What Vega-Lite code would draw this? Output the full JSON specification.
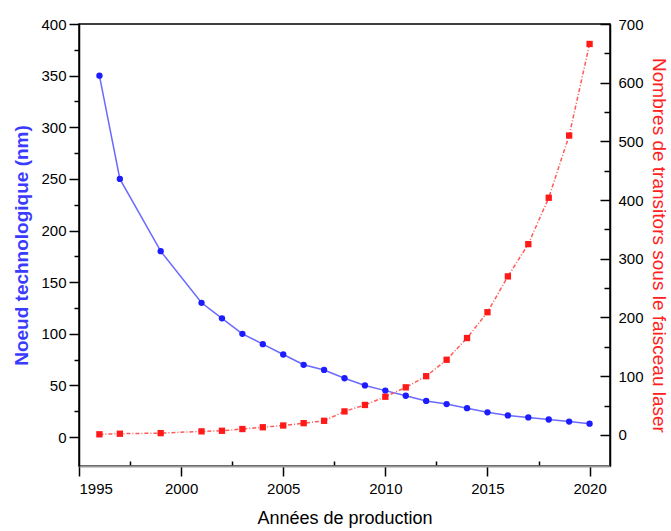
{
  "$schema": "https://vega.github.io/schema/vega-lite/v6.json",
  "autosize": {"type": "none"},
  "width": 531,
  "height": 442,
  "padding": {"left": 79, "top": 24, "right": 61, "bottom": 65},
  "background": "white",
  "config": {
    "font": "Liberation Sans",
    "view": {"stroke": "black", "strokeWidth": 1.5},
    "axis": {
      "grid": false,
      "labelFont": "Liberation Sans",
      "labelFontSize": 15,
      "labelColor": "black",
      "tickColor": "black",
      "tickWidth": 1.5,
      "domainColor": "black",
      "domainWidth": 1.5,
      "titleFont": "Liberation Sans"
    }
  },
  "data": {
    "values": [
      {"annee": 1996, "noeud": 350, "transistors": 1},
      {"annee": 1997, "noeud": 250, "transistors": 2},
      {"annee": 1999, "noeud": 180, "transistors": 3},
      {"annee": 2001, "noeud": 130, "transistors": 6},
      {"annee": 2002, "noeud": 115, "transistors": 7},
      {"annee": 2003, "noeud": 100, "transistors": 10},
      {"annee": 2004, "noeud": 90, "transistors": 13},
      {"annee": 2005, "noeud": 80, "transistors": 16},
      {"annee": 2006, "noeud": 70, "transistors": 20},
      {"annee": 2007, "noeud": 65, "transistors": 24},
      {"annee": 2008, "noeud": 57, "transistors": 40},
      {"annee": 2009, "noeud": 50, "transistors": 51},
      {"annee": 2010, "noeud": 45, "transistors": 65},
      {"annee": 2011, "noeud": 40, "transistors": 81},
      {"annee": 2012, "noeud": 35, "transistors": 100},
      {"annee": 2013, "noeud": 32, "transistors": 128},
      {"annee": 2014, "noeud": 28, "transistors": 165},
      {"annee": 2015, "noeud": 24, "transistors": 209},
      {"annee": 2016, "noeud": 21, "transistors": 270},
      {"annee": 2017, "noeud": 19, "transistors": 325},
      {"annee": 2018, "noeud": 17, "transistors": 404},
      {"annee": 2019, "noeud": 15, "transistors": 510},
      {"annee": 2020, "noeud": 13, "transistors": 666}
    ]
  },
  "encoding": {
    "x": {
      "field": "annee",
      "type": "quantitative",
      "scale": {"domain": [1995, 2021], "nice": false, "zero": false},
      "axis": {
        "title": "Années de production",
        "titleFontSize": 18,
        "titleFontWeight": "normal",
        "titleColor": "black",
        "titlePadding": 13,
        "values": [1995, 1997.5, 2000, 2002.5, 2005, 2007.5, 2010, 2012.5, 2015, 2017.5, 2020],
        "labelExpr": "datum.value % 5 === 0 ? format(datum.value, 'd') : ''",
        "tickSize": {"condition": {"test": "datum.value % 5 === 0", "value": 10}, "value": -5},
        "labelPadding": 5,
        "domainColor": "#999999",
        "domainWidth": 2
      }
    }
  },
  "layer": [
    {
      "encoding": {
        "y": {
          "field": "noeud",
          "type": "quantitative",
          "scale": {"domain": [-28, 400], "nice": false, "zero": false},
          "axis": {
            "orient": "left",
            "title": "Noeud technologique (nm)",
            "titleColor": "#3b3bff",
            "titleFontSize": 19,
            "titleFontWeight": "bold",
            "titlePadding": 9,
            "values": [0, 25, 50, 75, 100, 125, 150, 175, 200, 225, 250, 275, 300, 325, 350, 375, 400],
            "labelExpr": "datum.value % 50 === 0 ? datum.label : ''",
            "tickSize": {"condition": {"test": "datum.value % 50 === 0", "value": 10}, "value": 5},
            "labelPadding": 3
          }
        }
      },
      "layer": [
        {"mark": {"type": "line", "color": "#6a6aff", "strokeWidth": 1.5}},
        {"mark": {"type": "point", "shape": "circle", "filled": true, "color": "#1c1cff", "size": 40, "opacity": 1}}
      ]
    },
    {
      "encoding": {
        "y": {
          "field": "transistors",
          "type": "quantitative",
          "scale": {"domain": [-53, 700], "nice": false, "zero": false},
          "axis": {
            "orient": "right",
            "title": "Nombres de transitors sous le faisceau laser",
            "titleColor": "#ff2020",
            "titleFontSize": 19,
            "titleFontWeight": "normal",
            "titlePadding": 5,
            "values": [0, 50, 100, 150, 200, 250, 300, 350, 400, 450, 500, 550, 600, 650, 700],
            "labelExpr": "datum.value % 100 === 0 ? datum.label : ''",
            "tickSize": {"condition": {"test": "datum.value % 100 === 0", "value": -10}, "value": -6},
            "labelPadding": 18
          }
        }
      },
      "layer": [
        {"mark": {"type": "line", "color": "#ff5a5a", "strokeWidth": 1.5, "strokeDash": [4, 2, 1, 2]}},
        {"mark": {"type": "point", "shape": "square", "filled": true, "color": "#ff1a1a", "size": 40, "opacity": 1}}
      ]
    }
  ],
  "resolve": {"scale": {"y": "independent"}}
}
